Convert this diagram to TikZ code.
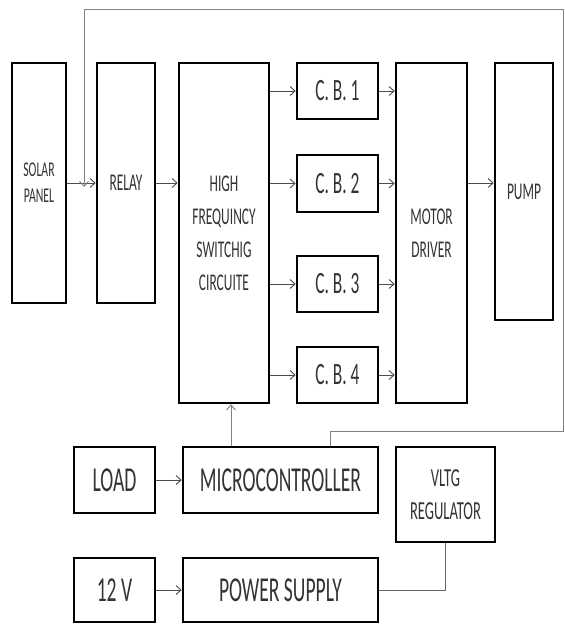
\documentclass[tikz,border=0pt]{standalone}
\usepackage{fontspec}
\setmainfont{Carlito}[FakeStretch=0.56]
\usetikzlibrary{positioning, arrows.meta}

\begin{document}
\begin{tikzpicture}[
    x=1pt, y=-1pt,
    block/.style={rectangle, draw, line width=2.6pt, inner sep=0pt, align=center, text=black!80},
    small/.style={font=\fontsize{24}{33}\selectfont},
    big/.style={font=\fontsize{35}{40}\selectfont},
    flow/.style={-{Straight Barb[length=5pt, width=9pt]}, line width=0.9pt, draw=black!70},
    wire/.style={line width=0.9pt, draw=black!60}
]
\useasboundingbox (0,0) rectangle (565,624);

\node[block, minimum width=54pt, minimum height=240pt, font=\fontsize{21}{26}\selectfont] (solar) at (39,183) {SOLAR\\PANEL};
\node[block, small, minimum width=58pt, minimum height=240pt] (relay) at (126,183) {RELAY};
\node[block, small, minimum width=90pt, minimum height=340pt] (hf) at (224,233) {HIGH\\FREQUINCY\\SWITCHIG\\CIRCUITE};
\node[block, font=\fontsize{31}{36}\selectfont, minimum width=81pt, minimum height=56pt] (cb1) at (337.5,91) {C. B. 1};
\node[block, font=\fontsize{31}{36}\selectfont, minimum width=81pt, minimum height=57pt] (cb2) at (337.5,183.5) {C. B. 2};
\node[block, font=\fontsize{31}{36}\selectfont, minimum width=81pt, minimum height=56pt] (cb3) at (337.5,284) {C. B. 3};
\node[block, font=\fontsize{31}{36}\selectfont, minimum width=81pt, minimum height=56pt] (cb4) at (337.5,375) {C. B. 4};
\node[block, small, minimum width=71pt, minimum height=340pt] (md) at (431.5,233) {MOTOR\\DRIVER};
\node[block, small, minimum width=58pt, minimum height=257pt] (pump) at (524,191.5) {PUMP};

\node[block, big, minimum width=81pt, minimum height=66pt] (load) at (114.5,480) {LOAD};
\node[block, big, minimum width=195pt, minimum height=66pt] (micro) at (280.5,480) {MICROCONTROLLER};
\node[block, font=\fontsize{26}{33}\selectfont, minimum width=99pt, minimum height=95pt] (vltg) at (445.5,494.5) {VLTG\\REGULATOR};
\node[block, big, minimum width=81pt, minimum height=64pt] (v12) at (114.5,590) {12 V};
\node[block, big, minimum width=195pt, minimum height=64pt] (ps) at (280.5,590) {POWER SUPPLY};

% feedback path from the microcontroller back to the relay input
\coordinate (fbdrop) at (330,431);
\coordinate (fbright) at (563,431);
\coordinate (fbtop) at (84,9);
\coordinate (hfin) at ([xshift=7pt]hf.south);

\draw[flow] (solar) -- (relay);
\draw[flow] (relay) -- (relay -| hf.west);
\draw[flow] (hf.east |- cb1) -- (cb1);
\draw[flow] (hf.east |- cb2) -- (cb2);
\draw[flow] (hf.east |- cb3) -- (cb3);
\draw[flow] (hf.east |- cb4) -- (cb4);
\draw[flow] (cb1) -- (cb1 -| md.west);
\draw[flow] (cb2) -- (cb2 -| md.west);
\draw[flow] (cb3) -- (cb3 -| md.west);
\draw[flow] (cb4) -- (cb4 -| md.west);
\draw[flow] (md.east |- relay) -- (pump.west |- relay);
\draw[flow] (load) -- (micro);
\draw[flow] (v12) -- (ps);
\draw[flow, draw=black!50] (hfin |- micro.north) -- (hfin);
\draw[wire] (ps.east) -| (vltg.south);
\draw[flow, draw=black!50] (micro.north -| fbdrop) |- (fbright) |- (fbtop) -- ([yshift=-4pt]fbtop |- solar.east);

\end{tikzpicture}
\end{document}
